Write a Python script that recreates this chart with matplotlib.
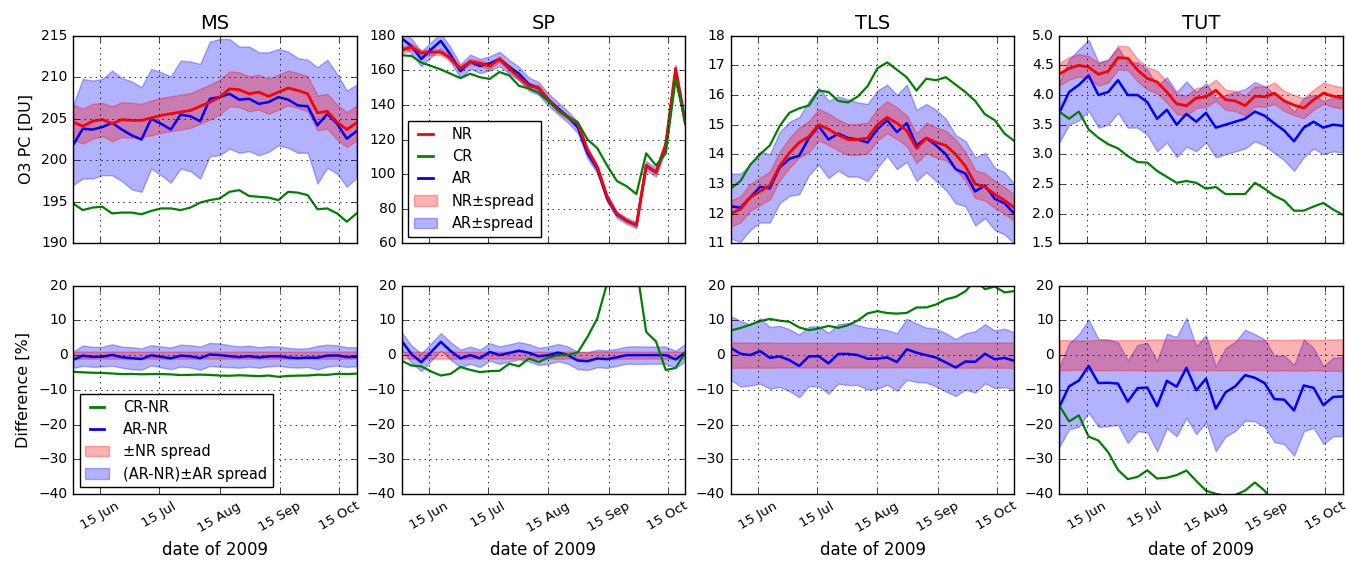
import matplotlib
matplotlib.use('Agg')
import matplotlib.pyplot as plt
import matplotlib.dates as mdates
from matplotlib.ticker import MultipleLocator, FormatStrFormatter
from matplotlib.lines import Line2D
from matplotlib.patches import Patch
import numpy as np
import pandas as pd

plt.style.use('classic')

# ---------------- data (5-day steps) ----------------
dates = pd.date_range('2009-06-01', '2009-10-24', freq='5D')
regions = ['MS', 'SP', 'TLS', 'TUT']

ms_nr = [204.6, 204.1, 204.7, 204.9, 204.4, 204.9, 204.8, 204.8, 205.1, 205.4,
         205.6, 205.8, 206.0, 206.5, 207.0, 207.6, 208.6, 208.5, 208.0, 208.2,
         207.7, 208.2, 208.7, 208.4, 208.0, 205.7, 205.9, 204.6, 203.7, 204.5]
ms_nr_spread = [2.1, 2.1, 2.1, 2.0, 2.1, 2.1, 2.1, 2.0, 2.1, 2.1,
                2.1, 2.1, 2.1, 2.1, 2.1, 2.1, 2.1, 2.1, 2.1, 2.1,
                2.1, 2.1, 2.1, 2.1, 2.1, 2.1, 2.1, 2.1, 2.1, 2.1]
ms_cr = [194.8, 194.0, 194.3, 194.4, 193.6, 193.7, 193.7, 193.5, 193.9, 194.2,
         194.2, 194.0, 194.3, 194.9, 195.2, 195.4, 196.2, 196.4, 195.7, 195.6,
         195.5, 195.2, 196.2, 196.1, 195.8, 194.1, 194.2, 193.6, 192.6, 193.6]
ms_ar = [201.8, 203.8, 203.7, 204.0, 204.5, 203.7, 203.0, 202.5, 205.0, 204.4,
         203.7, 205.5, 205.3, 204.7, 207.4, 207.6, 208.0, 207.3, 207.4, 206.8,
         207.0, 207.6, 207.3, 206.6, 206.5, 204.2, 205.6, 204.4, 202.6, 203.5]
ms_ar_spread = [4.8, 6.0, 5.9, 5.8, 6.3, 6.2, 6.5, 6.3, 6.0, 6.2,
                6.4, 6.5, 6.6, 6.9, 6.9, 7.0, 6.6, 6.4, 6.3, 6.2,
                6.0, 5.8, 5.8, 5.7, 5.6, 7.0, 6.5, 6.0, 5.8, 5.6]

sp_nr = [171.5, 173.5, 170.0, 170.5, 170.5, 167.0, 161.0, 165.0, 164.0, 162.5,
         166.5, 161.0, 156.0, 151.0, 150.0, 143.0, 137.0, 133.0, 129.0, 114.0,
         104.0, 87.0, 77.0, 73.0, 70.5, 105.0, 101.0, 117.0, 161.0, 129.0]
sp_nr_spread = [1.7, 1.7, 1.7, 1.7, 1.7, 1.7, 1.6, 1.6, 1.6, 1.6,
                1.6, 1.6, 1.55, 1.5, 1.5, 1.4, 1.4, 1.3, 1.3, 1.15,
                1.05, 0.9, 0.8, 0.75, 0.7, 1.05, 1.0, 1.2, 1.6, 1.3]
sp_cr = [168.7, 168.3, 164.5, 162.5, 160.5, 158.0, 155.5, 158.0, 156.0, 155.0,
         159.0, 157.0, 151.0, 149.5, 147.0, 142.0, 137.0, 133.0, 130.0, 120.0,
         115.0, 105.0, 96.0, 93.0, 88.5, 112.0, 105.0, 112.0, 155.0, 130.0]
sp_ar = [178.5, 174.0, 166.5, 172.0, 177.0, 169.0, 159.5, 165.0, 162.5, 164.0,
         166.5, 162.0, 158.0, 152.0, 149.5, 143.0, 138.0, 133.0, 127.0, 112.0,
         103.0, 86.0, 76.5, 73.0, 70.5, 105.0, 101.0, 117.0, 159.0, 130.0]
sp_ar_spread = [4.3, 4.3, 4.3, 4.3, 4.3, 4.2, 4.0, 4.1, 4.1, 4.1,
                4.2, 4.0, 3.9, 3.8, 3.7, 3.6, 3.4, 3.3, 3.2, 2.9,
                2.6, 2.2, 1.9, 1.8, 1.8, 2.6, 2.5, 2.9, 4.0, 3.2]

tls_nr = [12.0, 12.15, 12.55, 12.75, 12.95, 13.6, 14.05, 14.4, 14.6, 15.0,
          14.85, 14.65, 14.5, 14.5, 14.55, 15.0, 15.25, 15.05, 14.8, 14.2,
          14.55, 14.4, 14.3, 14.0, 13.6, 13.0, 12.9, 12.65, 12.45, 12.2]
tls_nr_spread = [0.44, 0.44, 0.45, 0.46, 0.47, 0.48, 0.5, 0.51, 0.52, 0.53,
                 0.53, 0.52, 0.52, 0.52, 0.52, 0.53, 0.54, 0.53, 0.52, 0.5,
                 0.51, 0.51, 0.5, 0.5, 0.49, 0.47, 0.46, 0.46, 0.45, 0.45]
tls_cr = [12.85, 13.1, 13.65, 14.0, 14.3, 14.95, 15.4, 15.55, 15.65, 16.15,
          16.1, 15.8, 15.75, 15.95, 16.3, 16.9, 17.1, 16.85, 16.6, 16.15,
          16.55, 16.5, 16.6, 16.35, 16.1, 15.8, 15.35, 15.15, 14.7, 14.45]
tls_ar = [12.25, 12.2, 12.55, 12.9, 12.85, 13.55, 13.85, 13.95, 14.55, 14.95,
          14.5, 14.7, 14.55, 14.5, 14.4, 14.85, 15.15, 14.75, 15.05, 14.3,
          14.55, 14.3, 14.0, 13.5, 13.35, 12.75, 12.95, 12.5, 12.35, 12.0]
tls_ar_spread = [1.1, 1.15, 1.1, 1.2, 1.15, 1.2, 1.25, 1.3, 1.25, 1.3,
                 1.3, 1.25, 1.3, 1.25, 1.3, 1.3, 1.2, 1.25, 1.3, 1.2,
                 1.15, 1.2, 1.2, 1.15, 1.1, 1.15, 1.1, 1.05, 1.05, 1.0]

tut_nr = [4.35, 4.45, 4.5, 4.47, 4.35, 4.4, 4.63, 4.62, 4.42, 4.28,
          4.22, 4.05, 3.85, 3.82, 3.95, 3.97, 4.08, 3.92, 3.9, 3.82,
          3.98, 3.97, 4.03, 3.9, 3.83, 3.78, 3.92, 4.03, 3.98, 3.95]
tut_nr_spread = [0.19, 0.19, 0.19, 0.19, 0.19, 0.19, 0.2, 0.2, 0.19, 0.19,
                 0.19, 0.18, 0.17, 0.17, 0.17, 0.17, 0.18, 0.17, 0.17, 0.17,
                 0.17, 0.17, 0.18, 0.17, 0.17, 0.17, 0.17, 0.18, 0.18, 0.18]
tut_cr = [3.72, 3.6, 3.72, 3.42, 3.28, 3.17, 3.1, 2.97, 2.87, 2.86,
          2.72, 2.62, 2.52, 2.55, 2.52, 2.42, 2.45, 2.33, 2.33, 2.33,
          2.52, 2.42, 2.3, 2.22, 2.05, 2.05, 2.12, 2.18, 2.07, 1.98]
tut_ar = [3.7, 4.05, 4.17, 4.33, 4.0, 4.05, 4.25, 4.0, 4.0, 3.88,
          3.6, 3.75, 3.5, 3.68, 3.55, 3.7, 3.45, 3.5, 3.55, 3.6,
          3.72, 3.65, 3.52, 3.4, 3.22, 3.45, 3.55, 3.45, 3.5, 3.48]
tut_ar_spread = [0.5, 0.55, 0.6, 0.6, 0.55, 0.55, 0.55, 0.55, 0.55, 0.55,
                 0.55, 0.55, 0.55, 0.55, 0.5, 0.5, 0.5, 0.5, 0.5, 0.5,
                 0.5, 0.5, 0.5, 0.5, 0.5, 0.5, 0.45, 0.45, 0.45, 0.45]

data = {
    'MS': (ms_nr, ms_nr_spread, ms_cr, ms_ar, ms_ar_spread),
    'SP': (sp_nr, sp_nr_spread, sp_cr, sp_ar, sp_ar_spread),
    'TLS': (tls_nr, tls_nr_spread, tls_cr, tls_ar, tls_ar_spread),
    'TUT': (tut_nr, tut_nr_spread, tut_cr, tut_ar, tut_ar_spread),
}
top_ylim = {'MS': (190, 215, 5), 'SP': (60, 180, 20), 'TLS': (11, 18, 1), 'TUT': (1.5, 5.0, 0.5)}
month_ticks = pd.to_datetime(['2009-06-15', '2009-07-15', '2009-08-15', '2009-09-15', '2009-10-15'])

# ---------------- figure ----------------
fig = plt.figure(figsize=(13.46, 5.61), dpi=100, facecolor='w')
lefts = [73.0, 401.7, 730.7, 1059.3]
W, H = 1346.0, 561.0
aw = 283.6 / W
top_b, top_h = 1 - 243.3 / H, 207.6 / H
bot_b, bot_h = 1 - 494.0 / H, 208.3 / H

TICK_FS = 10
XTICK_FS = 9.5
LAB_FS = 11.5


def style_x(ax, show_labels):
    ax.set_xlim(pd.Timestamp('2009-06-01'), pd.Timestamp('2009-10-24'))
    ax.set_xticks(month_ticks)
    ax.xaxis.set_major_formatter(mdates.DateFormatter('%d %b'))
    ax.grid(True, color='k', linestyle=':', linewidth=0.6)
    ax.tick_params(labelsize=TICK_FS)
    if show_labels:
        for lab in ax.get_xticklabels():
            lab.set_rotation(30)
            lab.set_ha('center')
            lab.set_fontsize(XTICK_FS)
        ax.set_xlabel('date of 2009', fontsize=12)
    else:
        ax.tick_params(labelbottom=False)


for i, reg in enumerate(regions):
    nr, nrs, cr, ar, ars = [np.asarray(a, dtype=float) for a in data[reg]]
    left = lefts[i] / W

    # ---- top panel ----
    ax = fig.add_axes([left, top_b, aw, top_h])
    ax.fill_between(dates, ar - ars, ar + ars, color='b', alpha=0.3, lw=1)
    ax.plot(dates, ar, color='b', lw=1.8)
    ax.fill_between(dates, nr - nrs, nr + nrs, color='r', alpha=0.3, lw=1)
    ax.plot(dates, nr, color='r', lw=2)
    ax.plot(dates, cr, color='g', lw=1.6)
    lo, hi, st = top_ylim[reg]
    ax.set_ylim(lo, hi)
    ax.yaxis.set_major_locator(MultipleLocator(st))
    if reg == 'TUT':
        ax.yaxis.set_major_formatter(FormatStrFormatter('%.1f'))
    else:
        ax.yaxis.set_major_formatter(FormatStrFormatter('%d'))
    style_x(ax, False)
    ax.set_title(reg, fontsize=14)
    if i == 0:
        ax.set_ylabel('O3 PC [DU]', fontsize=LAB_FS)
    if reg == 'SP':
        handles = [Line2D([], [], color='r', lw=2), Line2D([], [], color='g', lw=2),
                   Line2D([], [], color='b', lw=2),
                   Patch(facecolor='r', edgecolor='r', alpha=0.3),
                   Patch(facecolor='b', edgecolor='b', alpha=0.3)]
        ax.legend(handles, ['NR', 'CR', 'AR', 'NR\u00b1spread', 'AR\u00b1spread'],
                  loc='lower left', fontsize=10.5, fancybox=False, handlelength=1.6,
                  handletextpad=1.0, labelspacing=0.5, borderaxespad=0.45, framealpha=1)

    # ---- bottom panel ----
    d_cr = (cr - nr) / nr * 100
    d_ar = (ar - nr) / nr * 100
    nr_pct = nrs / nr * 100
    ar_pct = ars / nr * 100
    bx = fig.add_axes([left, bot_b, aw, bot_h])
    bx.fill_between(dates, d_ar - ar_pct, d_ar + ar_pct, color='b', alpha=0.3, lw=1)
    bx.plot(dates, d_ar, color='b', lw=1.8)
    bx.fill_between(dates, -nr_pct, nr_pct, color='r', alpha=0.3, lw=1)
    bx.plot(dates, d_cr, color='g', lw=1.6)
    bx.set_ylim(-40, 20)
    bx.yaxis.set_major_locator(MultipleLocator(10))
    style_x(bx, True)
    if i == 0:
        bx.set_ylabel('Difference [%]', fontsize=LAB_FS)
        handles = [Line2D([], [], color='g', lw=2), Line2D([], [], color='b', lw=2),
                   Patch(facecolor='r', edgecolor='r', alpha=0.3),
                   Patch(facecolor='b', edgecolor='b', alpha=0.3)]
        bx.legend(handles, ['CR-NR', 'AR-NR', '\u00b1NR spread', '(AR-NR)\u00b1AR spread'],
                  loc='lower left', fontsize=10.5, fancybox=False, handlelength=1.6,
                  handletextpad=1.0, labelspacing=0.5, borderaxespad=0.45, framealpha=1)

fig.savefig('out.png', dpi=100, facecolor='w')
